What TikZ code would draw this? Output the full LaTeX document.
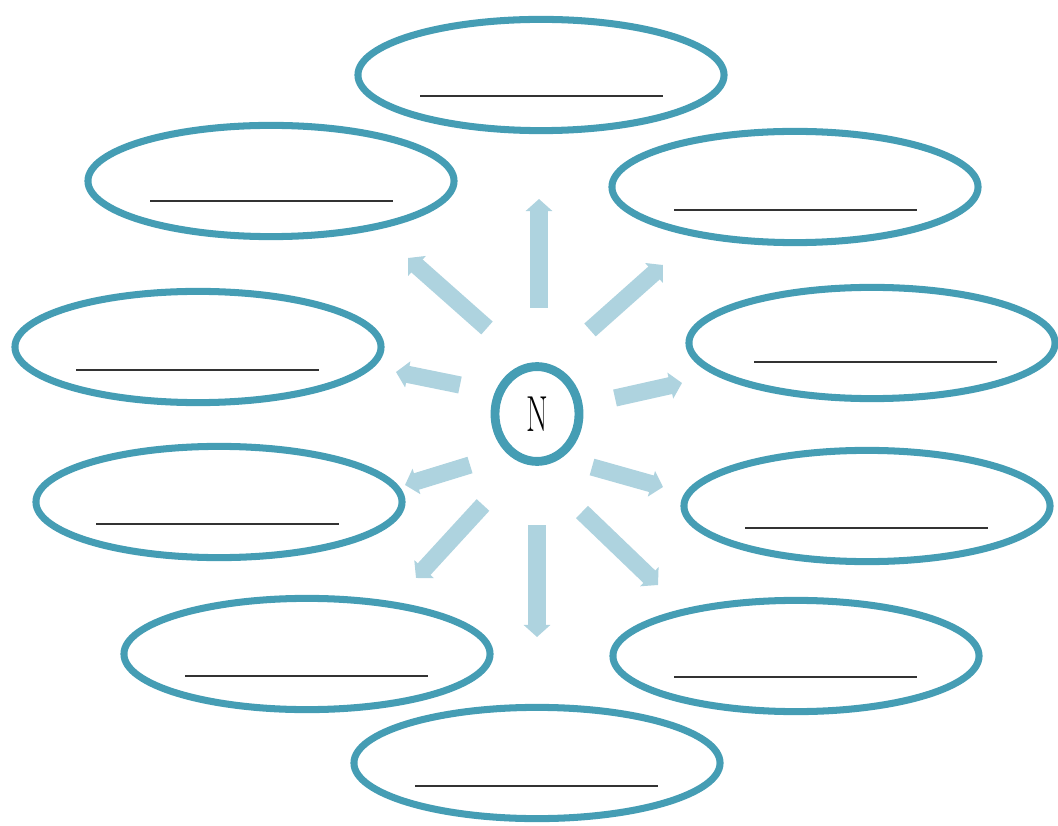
\documentclass[tikz,border=0pt]{standalone}
\usepackage{xcolor}
\usepackage{tikz}
\usetikzlibrary{arrows.meta, shapes.geometric}

\begin{document}
\begin{tikzpicture}[
    x=0.025cm, y=-0.025cm,
    bubble/.style={
        ellipse,
        draw=ringblue,
        line width=5pt,
        minimum width=9.15cm,
        minimum height=2.78cm,
        inner sep=0pt
    },
    hub/.style={
        ellipse,
        draw=ringblue,
        line width=6.3pt,
        minimum width=2.1cm,
        minimum height=2.37cm,
        inner sep=0pt,
        font=\fontsize{36}{36}\selectfont
    },
    blank/.style={line width=1.3pt, draw=black!80},
    spoke/.style={
        draw=spokeblue,
        line width=0.43cm,
        -{Triangle[width=0.65cm, length=0.3cm]}
    }
]

% Colors
\definecolor{ringblue}{RGB}{69,157,180}
\definecolor{spokeblue}{RGB}{174,211,223}

\useasboundingbox (0,0) rectangle (1058,826);

% Centre
\node[hub] (N) at (537,414) {\scalebox{0.62}[1]{N}};

% Bubbles
\node[bubble] (top) at (541,75) {};
\node[bubble] (upleft) at (271,181) {};
\node[bubble] (upright) at (795,187) {};
\node[bubble] (left) at (198,347) {};
\node[bubble] (right) at (872,343) {};
\node[bubble] (midleft) at (219,502) {};
\node[bubble] (midright) at (867,506) {};
\node[bubble] (lowleft) at (307,654) {};
\node[bubble] (lowright) at (796,656) {};
\node[bubble] (bottom) at (537,763) {};

% Blanks
\draw[blank] ([shift={(-121,21)}]top.center) -- ++(243,0);
\draw[blank] ([shift={(-121,20)}]upleft.center) -- ++(243,0);
\draw[blank] ([shift={(-121,23)}]upright.center) -- ++(243,0);
\draw[blank] ([shift={(-122,23)}]left.center) -- ++(243,0);
\draw[blank] ([shift={(-118,19)}]right.center) -- ++(243,0);
\draw[blank] ([shift={(-123,22)}]midleft.center) -- ++(243,0);
\draw[blank] ([shift={(-122,22)}]midright.center) -- ++(243,0);
\draw[blank] ([shift={(-122,22)}]lowleft.center) -- ++(243,0);
\draw[blank] ([shift={(-122,21)}]lowright.center) -- ++(243,0);
\draw[blank] ([shift={(-122,23)}]bottom.center) -- ++(243,0);

% Spokes
\draw[spoke] ([shift={(2,-106)}]N.center) -- ++(0,-109);
\draw[spoke] ([shift={(-50,-86)}]N.center) -- ++(-79,-70);
\draw[spoke] ([shift={(53,-84)}]N.center) -- ++(73,-65);
\draw[spoke] ([shift={(-77,-29)}]N.center) -- ++(-64,-13);
\draw[spoke] ([shift={(78,-16)}]N.center) -- ++(67,-15);
\draw[spoke] ([shift={(-67,51)}]N.center) -- ++(-65,20);
\draw[spoke] ([shift={(55,53)}]N.center) -- ++(71,20);
\draw[spoke] ([shift={(-54,91)}]N.center) -- ++(-67,73);
\draw[spoke] ([shift={(0,111)}]N.center) -- ++(0,112);
\draw[spoke] ([shift={(45,98)}]N.center) -- ++(76,73);

\end{tikzpicture}
\end{document}
